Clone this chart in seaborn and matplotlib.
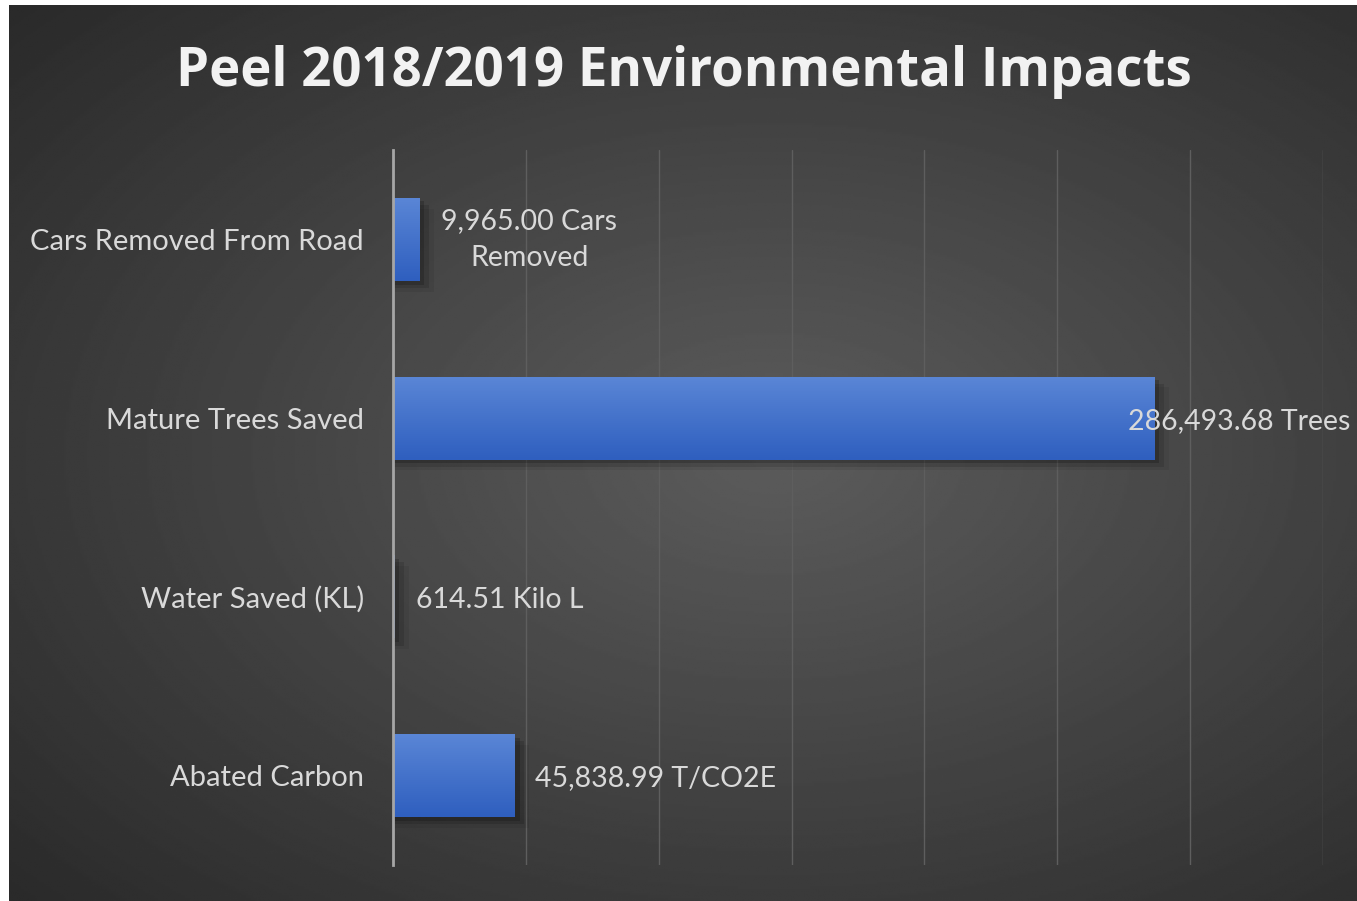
import numpy as np
import seaborn as sns
from matplotlib import pyplot as plt
from matplotlib.patches import Rectangle
from matplotlib.colors import LinearSegmentedColormap

categories = ['Cars Removed From Road', 'Mature Trees Saved', 'Water Saved (KL)', 'Abated Carbon']
values = [9965.00, 286493.68, 614.51, 45838.99]
value_labels = ['9,965.00 Cars\nRemoved', '286,493.68 Trees', '614.51 Kilo L', '45,838.99 T/CO2E']
title = 'Peel 2018/2019 Environmental Impacts'

sns.set_theme(style='dark')
plt.rcParams['font.family'] = ['Lato', 'DejaVu Sans']

W, H = 1357, 901
fig = plt.figure(figsize=(W / 100, H / 100), dpi=100, facecolor='white')

# dark radial background
bg = fig.add_axes([9 / W, 0, 1 - 9 / W, 896 / H])
yy, xx = np.mgrid[0:400, 0:600]
d = np.sqrt(((xx - 340) / 520) ** 2 + ((yy - 200) / 330) ** 2)
shade = np.clip(0.36 - 0.22 * d, 0.15, 0.36)
bg.imshow(shade, cmap='gray', vmin=0, vmax=1, aspect='auto', extent=[0, 1, 0, 1], origin='upper')
bg.set_axis_off()

ax = fig.add_axes([393 / W, 1 - 865 / H, (1323 - 393) / W, (865 - 150) / H])
ax.patch.set_alpha(0)
sns.barplot(x=values, y=categories, orient='h', ax=ax, width=0.465, color='#3d6cc8',
            linewidth=0, zorder=3)

ax.set_xlim(0, 350000)
ax.set_ylim(3.5, -0.5)
ax.set_xticks(np.arange(0, 350001, 50000))
ax.set_xticklabels([])
ax.grid(axis='x', color='#5e5e5e', linewidth=1)
ax.grid(axis='y', visible=False)
for s in ['top', 'right', 'bottom']:
    ax.spines[s].set_visible(False)
ax.spines['left'].set_color('#a6a6a6')
ax.spines['left'].set_linewidth(2)
ax.spines['left'].set_zorder(5)
ax.tick_params(axis='y', length=0, pad=21, labelsize=21, labelcolor='#d9d9d9')
ax.tick_params(axis='x', length=0)
ax.set_xlabel('')
ax.set_ylabel('')

# gradient fill + soft shadow on the bars
grad = np.linspace(0, 1, 50).reshape(-1, 1)
bar_cmap = LinearSegmentedColormap.from_list('bar', ['#5a86d6', '#2f5fbf'])
for p in list(ax.patches):
    x0, y0 = p.get_x(), p.get_y()
    w, h = p.get_width(), p.get_height()
    for k, a in enumerate([0.18, 0.12, 0.06]):
        off = (k + 1) * 1800
        ax.add_patch(Rectangle((x0, y0 + 0.02 * (k + 1)), w + off, h, color='black',
                               alpha=a, zorder=2, linewidth=0))
    im = ax.imshow(grad, cmap=bar_cmap, aspect='auto', extent=[x0, x0 + w, y0 + h, y0],
                   zorder=4, origin='upper')
    im.set_clip_path(p)
ax.set_xlim(0, 350000)
ax.set_ylim(3.5, -0.5)

# data labels
label_offsets = [(22, 0), (-26, -3), (21, -3), (20, -2)]
for i, (v, lab) in enumerate(zip(values, value_labels)):
    dx, dy = label_offsets[i]
    ax.annotate(lab, xy=(v, i), xytext=(dx, dy), textcoords='offset pixels',
                ha='left', va='center', fontsize=20.5, color='#d9d9d9',
                multialignment='center', linespacing=1.5, zorder=6, annotation_clip=False)

fig.text(684 / W, 1 - 72 / H, title, ha='center', va='center', fontsize=38,
         fontweight='bold', color='#f2f2f2', family=['Open Sans', 'DejaVu Sans'])

fig.savefig('out.png', dpi=100, facecolor='white')
